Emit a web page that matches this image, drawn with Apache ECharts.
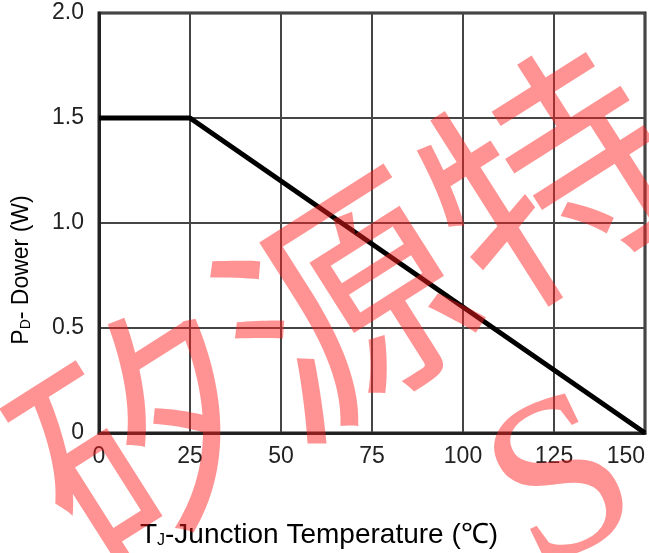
<!DOCTYPE html>
<html>
<head>
<meta charset="utf-8">
<script src="https://cdn.jsdelivr.net/npm/echarts@6/dist/echarts.min.js"></script>
<style>
html,body{margin:0;padding:0;background:#fff;}
#c{width:649px;height:553px;}
</style>
</head>
<body>
<div id="c"></div>
<script>
// Data
var tempC = [0, 25, 150];            // junction temperature (°C)
var powerW = [1.5, 1.5, 0];          // power dissipation (W)
var xTicks = [0, 25, 50, 75, 100, 125, 150];
var yTickLabels = {0: '0', 0.5: '0.5', 1: '1.0', 1.5: '1.5', 2: '2.0'};
var xTitle = ['T', 'J', '-Junction Temperature (℃)'];
var yTitle = ['P', 'D', '- Dower (W)'];
var watermark = ['矽源特', 'S'];

var chart = echarts.init(document.getElementById('c'));
var font = 'Liberation Sans, Arial, sans-serif';
var pts = tempC.map(function (t, i) { return [t, powerW[i]]; });

chart.setOption({
  animation: false,
  backgroundColor: '#fff',
  grid: {left: 99, right: 4, top: 13, bottom: 120, show: true, borderColor: '#222', borderWidth: 3,
    containLabel: false, outerBoundsMode: 'none'},
  xAxis: {
    type: 'value', min: 0, max: 150, interval: 25,
    axisLine: {show: true, lineStyle: {color: '#222', width: 3}},
    axisTick: {show: false},
    splitLine: {show: true, lineStyle: {color: '#454545', width: 2}},
    axisLabel: {color: '#222', fontSize: 23, fontFamily: font, margin: 12, hideOverlap: false,
      alignMaxLabel: 'right',
      formatter: function (v) { return xTicks.indexOf(v) >= 0 ? String(v) : ''; }}
  },
  yAxis: {
    type: 'value', min: 0, max: 2, interval: 0.5,
    axisLine: {show: true, lineStyle: {color: '#222', width: 3}},
    axisTick: {show: false},
    splitLine: {show: true, lineStyle: {color: '#454545', width: 2}},
    axisLabel: {color: '#222', fontSize: 23, fontFamily: font, margin: 15,
      formatter: function (v) { return yTickLabels[v] !== undefined ? yTickLabels[v] : ''; }}
  },
  series: [{
    type: 'line', data: pts, symbol: 'none', z: 5,
    lineStyle: {color: '#000', width: 5}
  }],
  graphic: [
    {
      type: 'text', x: 319, y: 533, z: 10,
      style: {
        text: '{n|' + xTitle[0] + '}{s|' + xTitle[1] + '}{n|' + xTitle[2] + '}',
        align: 'center', verticalAlign: 'middle',
        rich: {
          n: {fontSize: 28, fontFamily: font, fill: '#000', lineHeight: 32, verticalAlign: 'bottom'},
          s: {fontSize: 16, fontFamily: font, fill: '#000', lineHeight: 24, verticalAlign: 'bottom'}
        }
      }
    },
    {
      type: 'text', x: 19, y: 270, rotation: Math.PI / 2, z: 10,
      style: {
        text: '{n|' + yTitle[0] + '}{s|' + yTitle[1] + '}{n|' + yTitle[2] + '}',
        align: 'center', verticalAlign: 'middle',
        rich: {
          n: {fontSize: 23, fontFamily: font, fill: '#000', lineHeight: 28, verticalAlign: 'bottom'},
          s: {fontSize: 14, fontFamily: font, fill: '#000', lineHeight: 22, verticalAlign: 'bottom'}
        }
      }
    },
    {
      type: 'text', x: 345, y: 305, rotation: Math.PI * 0.18, z: 20, silent: true,
      style: {
        text: watermark[0], align: 'center', verticalAlign: 'middle',
        fontSize: 240, fontFamily: 'Noto Sans CJK SC', fontWeight: 'normal',
        fill: 'rgba(255,30,30,0.48)'
      }
    },
    {
      type: 'text', x: 565, y: 490, rotation: Math.PI / 7, z: 20, silent: true,
      style: {
        text: watermark[1], align: 'center', verticalAlign: 'middle',
        fontSize: 230, fontFamily: 'Liberation Serif', fontWeight: 'normal',
        fill: 'rgba(255,30,30,0.48)'
      }
    }
  ]
});
</script>
</body>
</html>
